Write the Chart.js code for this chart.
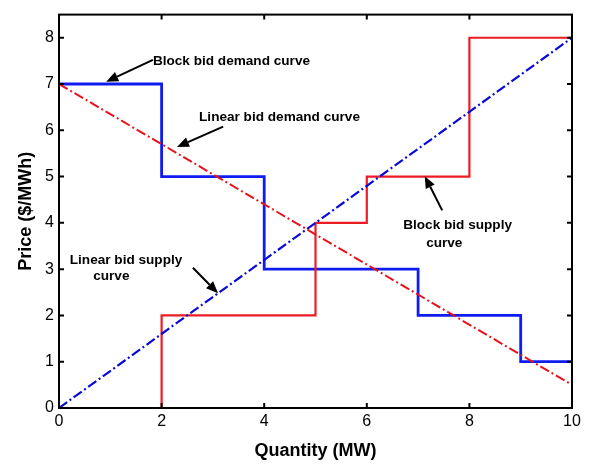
<!DOCTYPE html>
<html>
<head>
<meta charset="utf-8">
<script src="https://cdn.jsdelivr.net/npm/chart.js@4/dist/chart.umd.min.js"></script>
<style>
  html, body { margin: 0; padding: 0; background: #fff; }
  #wrap { width: 594px; height: 466px; position: relative; }
</style>
</head>
<body>
<div id="wrap"><canvas id="c" width="594" height="466"></canvas></div>
<script>
// ---- Data ----
const xTicks = [0, 2, 4, 6, 8, 10];
const yTicks = [0, 1, 2, 3, 4, 5, 6, 7, 8];

// Block bid demand: block edges (quantity) and price per block
const demandEdges = [0, 2, 4, 7, 9, 10];
const demandPrices = [7, 5, 3, 2, 1];

// Block bid supply: block edges (quantity) and price per block
const supplyEdges = [2, 5, 6, 8, 10];
const supplyPrices = [2, 4, 5, 8];

// Linear bids: endpoints (quantity, price)
const linDemandQty = [0, 10];
const linDemandPrice = [7, 0.5];
const linSupplyQty = [0, 10];
const linSupplyPrice = [0, 8];

// Annotations: label lines and arrows (data coordinates)
const labels = [
  { text: 'Block bid demand curve', x: 1.83, y: 7.49, align: 'left' },
  { text: 'Linear bid demand curve', x: 2.73, y: 6.29, align: 'left' },
  { text: 'Linear bid supply', x: 0.21, y: 3.19, align: 'left' },
  { text: 'curve', x: 1.02, y: 2.84, align: 'center' },
  { text: 'Block bid supply', x: 6.71, y: 3.94, align: 'left' },
  { text: 'curve', x: 7.51, y: 3.57, align: 'center' }
];
const arrows = [
  { from: [1.83, 7.52], to: [0.92, 7.05] },
  { from: [3.20, 6.08], to: [2.30, 5.64] },
  { from: [2.61, 3.03], to: [3.10, 2.48] },
  { from: [7.47, 4.27], to: [7.13, 5.01] }
];

// ---- Build point lists ----
function blocks(edges, prices, startAtZero) {
  const pts = [];
  if (startAtZero) pts.push({ x: edges[0], y: 0 });
  for (let i = 0; i < prices.length; i++) {
    pts.push({ x: edges[i], y: prices[i] });
    pts.push({ x: edges[i + 1], y: prices[i] });
  }
  return pts;
}
const demandPts = blocks(demandEdges, demandPrices, false);
const supplyPts = blocks(supplyEdges, supplyPrices, true);
const linDemandPts = linDemandQty.map((q, i) => ({ x: q, y: linDemandPrice[i] }));
const linSupplyPts = linSupplyQty.map((q, i) => ({ x: q, y: linSupplyPrice[i] }));

const FONT = '"Liberation Sans", Arial, Helvetica, sans-serif';
const dashDot = [10, 3, 2, 3];

const framePlugin = {
  id: 'frame',
  afterDatasetsDraw(chart) {
    const { ctx, chartArea: a, scales } = chart;
    const xs = scales.x, ys = scales.y;
    ctx.save();
    // annotations
    ctx.fillStyle = '#000';
    ctx.font = 'bold 13.6px ' + FONT;
    ctx.textBaseline = 'middle';
    labels.forEach(l => {
      ctx.textAlign = l.align;
      ctx.fillText(l.text, xs.getPixelForValue(l.x), ys.getPixelForValue(l.y));
    });
    ctx.strokeStyle = '#000';
    ctx.lineWidth = 2;
    arrows.forEach(ar => {
      const x1 = xs.getPixelForValue(ar.from[0]), y1 = ys.getPixelForValue(ar.from[1]);
      const x2 = xs.getPixelForValue(ar.to[0]), y2 = ys.getPixelForValue(ar.to[1]);
      const ang = Math.atan2(y2 - y1, x2 - x1);
      const hl = 12, hw = 5;
      const bx = x2 - hl * Math.cos(ang), by = y2 - hl * Math.sin(ang);
      ctx.beginPath();
      ctx.moveTo(x1, y1);
      ctx.lineTo(bx, by);
      ctx.stroke();
      ctx.beginPath();
      ctx.moveTo(x2, y2);
      ctx.lineTo(bx + hw * Math.sin(ang), by - hw * Math.cos(ang));
      ctx.lineTo(bx - hw * Math.sin(ang), by + hw * Math.cos(ang));
      ctx.closePath();
      ctx.fill();
    });
    // box
    ctx.lineWidth = 2;
    ctx.strokeStyle = '#000';
    ctx.strokeRect(a.left, a.top, a.right - a.left, a.bottom - a.top);
    // inward ticks
    const tl = 5;
    ctx.beginPath();
    xTicks.forEach(v => {
      const px = xs.getPixelForValue(v);
      ctx.moveTo(px, a.bottom); ctx.lineTo(px, a.bottom - tl);
      ctx.moveTo(px, a.top); ctx.lineTo(px, a.top + tl);
    });
    yTicks.forEach(v => {
      const py = ys.getPixelForValue(v);
      ctx.moveTo(a.left, py); ctx.lineTo(a.left + tl, py);
      ctx.moveTo(a.right, py); ctx.lineTo(a.right - tl, py);
    });
    ctx.stroke();
    ctx.restore();
  }
};

new Chart(document.getElementById('c'), {
  type: 'line',
  data: {
    datasets: [
      { label: 'Linear bid demand curve', data: linDemandPts, borderColor: '#e8121a', borderWidth: 2, borderDash: dashDot, pointRadius: 0, fill: false },
      { label: 'Linear bid supply curve', data: linSupplyPts, borderColor: '#0a0ad8', borderWidth: 2.2, borderDash: dashDot, pointRadius: 0, fill: false },
      { label: 'Block bid supply curve', data: supplyPts, borderColor: '#ec1c24', borderWidth: 2.2, pointRadius: 0, fill: false },
      { label: 'Block bid demand curve', data: demandPts, borderColor: '#0f1cf0', borderWidth: 2.8, pointRadius: 0, fill: false }
    ]
  },
  options: {
    responsive: false,
    animation: false,
    layout: { padding: { left: 0, right: 22, top: 4, bottom: 0 } },
    plugins: { legend: { display: false }, tooltip: { enabled: false } },
    scales: {
      x: {
        type: 'linear', min: 0, max: 10,
        afterBuildTicks: s => { s.ticks = xTicks.map(v => ({ value: v })); },
        afterFit: s => { s.height = 58; },
        grid: { display: false, drawTicks: false },
        border: { display: false },
        ticks: { color: '#000', font: { family: FONT, size: 16 }, padding: 4, maxRotation: 0 },
        title: { display: true, text: 'Quantity (MW)', color: '#000', font: { family: FONT, size: 18, weight: 'bold' }, padding: { top: 1, bottom: 4 } }
      },
      y: {
        type: 'linear', min: 0, max: 8.5,
        afterBuildTicks: s => { s.ticks = yTicks.map(v => ({ value: v })); },
        afterFit: s => { s.width = 59; },
        grid: { display: false, drawTicks: false },
        border: { display: false },
        ticks: { color: '#000', font: { family: FONT, size: 16 }, padding: 5 },
        title: { display: true, text: 'Price ($/MWh)', color: '#000', font: { family: FONT, size: 18, weight: 'bold' }, padding: { top: 15, bottom: 0 } }
      }
    }
  },
  plugins: [framePlugin]
});
</script>
</body>
</html>
